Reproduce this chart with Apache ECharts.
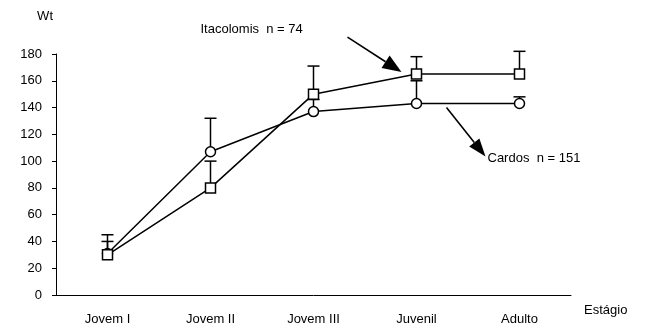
<!DOCTYPE html>
<html>
<head>
<meta charset="utf-8">
<script src="https://cdn.jsdelivr.net/npm/echarts@6/dist/echarts.min.js"></script>
<style>html,body{margin:0;padding:0;background:#fff}#c{width:651px;height:330px}</style>
</head>
<body>
<div id="c"></div>
<script>
var categories = ['Jovem I', 'Jovem II', 'Jovem III', 'Juvenil', 'Adulto'];
var itacolomisMean = [30, 80, 150, 165, 165];
var itacolomisUpper = [45, 100, 171, 178, 182];
var cardosMean = [31, 107, 137, 143, 143];
var cardosUpper = [40, 132, 146, 160, 148];
var yTicks = { min: 0, max: 180, interval: 20 };
var itacolomisLabel = 'Itacolomis  n = 74';
var cardosLabel = 'Cardos  n = 151';

var FONT = '"Liberation Sans", Arial, sans-serif';
var FS = 13;

function errData(mean, upper) {
  return mean.map(function (m, i) { return [i, m, upper[i]]; });
}
function errRender(params, api) {
  var i = api.value(0);
  var p0 = api.coord([i, api.value(1)]);
  var p1 = api.coord([i, api.value(2)]);
  var hw = 6;
  return {
    type: 'group',
    children: [
      { type: 'line', shape: { x1: p0[0], y1: p0[1], x2: p1[0], y2: p1[1] }, style: { stroke: '#000', lineWidth: 1.5 } },
      { type: 'line', shape: { x1: p1[0] - hw, y1: p1[1], x2: p1[0] + hw, y2: p1[1] }, style: { stroke: '#000', lineWidth: 1.5 } }
    ]
  };
}

var chart = echarts.init(document.getElementById('c'));
chart.setOption({
  animation: false,
  backgroundColor: '#fff',
  grid: { left: 56, right: 80, top: 54, bottom: 35 },
  xAxis: {
    type: 'category',
    data: categories,
    name: 'Estágio',
    nameLocation: 'end',
    nameGap: 13,
    nameTextStyle: { color: '#000', fontFamily: FONT, fontSize: FS, verticalAlign: 'top', padding: [9, 0, 0, 0] },
    axisLine: { lineStyle: { color: '#000', width: 1 } },
    axisTick: { length: 4, lineStyle: { color: '#000' } },
    axisLabel: { color: '#000', fontFamily: FONT, fontSize: FS, margin: 18 }
  },
  yAxis: {
    type: 'value',
    min: yTicks.min, max: yTicks.max, interval: yTicks.interval,
    name: 'Wt',
    nameLocation: 'end',
    nameGap: 31,
    nameTextStyle: { color: '#000', fontFamily: FONT, fontSize: FS, align: 'right', padding: [0, 3, 0, 0] },
    splitLine: { show: false },
    axisLine: { show: true, lineStyle: { color: '#000', width: 1 } },
    axisTick: { show: true, length: 4, lineStyle: { color: '#000' } },
    axisLabel: { color: '#000', fontFamily: FONT, fontSize: FS, margin: 14 }
  },
  series: [
    { type: 'custom', renderItem: errRender, data: errData(cardosMean, cardosUpper), encode: { x: 0, y: [1, 2] }, z: 1 },
    { type: 'custom', renderItem: errRender, data: errData(itacolomisMean, itacolomisUpper), encode: { x: 0, y: [1, 2] }, z: 1 },
    {
      name: 'Cardos', type: 'line', data: cardosMean, symbol: 'circle', symbolSize: 10, z: 3,
      lineStyle: { color: '#000', width: 1.5 },
      itemStyle: { color: '#fff', borderColor: '#000', borderWidth: 1.5 }
    },
    {
      name: 'Itacolomis', type: 'line', data: itacolomisMean, symbol: 'rect', symbolSize: 10, z: 4,
      lineStyle: { color: '#000', width: 1.5 },
      itemStyle: { color: '#fff', borderColor: '#000', borderWidth: 1.5 }
    }
  ]
});

function arrow(x1, y1, x2, y2, headLen, headW) {
  var dx = x2 - x1, dy = y2 - y1, L = Math.sqrt(dx * dx + dy * dy);
  var ux = dx / L, uy = dy / L, px = -uy, py = ux;
  var bx = x2 - ux * headLen, by = y2 - uy * headLen;
  return [
    { type: 'line', shape: { x1: x1, y1: y1, x2: bx, y2: by }, style: { stroke: '#000', lineWidth: 1.6 }, z: 10 },
    { type: 'polygon', shape: { points: [[x2, y2], [bx + px * headW / 2, by + py * headW / 2], [bx - px * headW / 2, by - py * headW / 2]] }, style: { fill: '#000' }, z: 10 }
  ];
}

var pI = chart.convertToPixel({ gridIndex: 0 }, [3, itacolomisMean[3]]);
var pC = chart.convertToPixel({ gridIndex: 0 }, [3, cardosMean[3]]);
var els = [];
els = els.concat(arrow(pI[0] - 69, pI[1] - 37, pI[0] - 15, pI[1] - 2, 19, 15));
els = els.concat(arrow(pC[0] + 30, pC[1] + 4, pC[0] + 69, pC[1] + 53, 18, 13));
els.push({ type: 'text', x: pI[0] - 216, y: pI[1] - 45, style: { text: itacolomisLabel, fill: '#000', font: FS + 'px ' + FONT, textAlign: 'left', textVerticalAlign: 'middle' }, z: 10 });
els.push({ type: 'text', x: pC[0] + 71, y: pC[1] + 55, style: { text: cardosLabel, fill: '#000', font: FS + 'px ' + FONT, textAlign: 'left', textVerticalAlign: 'middle' }, z: 10 });
chart.setOption({ graphic: els });
</script>
</body>
</html>
